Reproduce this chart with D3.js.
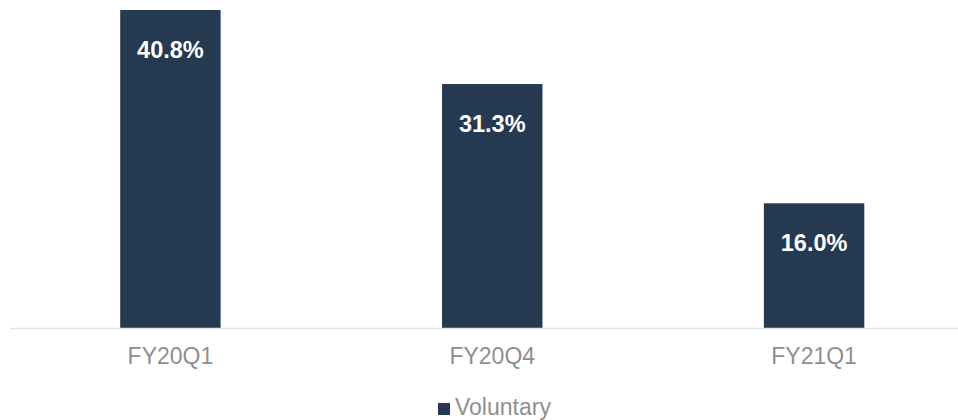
<!DOCTYPE html>
<html lang="en">
    <head>
        <meta http-equiv="content-type" content="text/html;charset=utf-8"/>
        <title>Voluntary</title>
        <script src="https://cdn.jsdelivr.net/npm/d3@7"></script>
        <style>
            body { margin: 0; background: #ffffff; }
            svg { display: block; font-family: "Liberation Sans", Arial, sans-serif; }
        </style>
    </head>
    <body>
        <div id="chart"></div>
        <script>
            // chart data
            var categories = ["FY20Q1", "FY20Q4", "FY21Q1"];
            var voluntary = [40.8, 31.3, 16.0];
            var seriesName = "Voluntary";

            var width = 958;
            var height = 420;
            var barColor = "#253a50";

            var svg = d3.select("#chart").append("svg")
                .attr("width", width)
                .attr("height", height);

            var x = d3.scaleBand()
                .domain(categories)
                .range([9.5, 975])
                .paddingInner(0.688)
                .paddingOuter(0.344);

            var y = d3.scaleLinear()
                .domain([0, d3.max(voluntary)])
                .range([328, 10]);

            var data = categories.map((c, i) => ({ cat: c, value: voluntary[i] }));

            // bars
            svg.selectAll(".bar")
                .data(data)
                .join("rect")
                .attr("class", "bar")
                .attr("x", d => x(d.cat))
                .attr("y", d => y(d.value))
                .attr("width", x.bandwidth())
                .attr("height", d => y(0) - y(d.value))
                .attr("fill", barColor);

            // baseline
            svg.append("line")
                .attr("x1", 10)
                .attr("x2", width)
                .attr("y1", y(0) + 0.5)
                .attr("y2", y(0) + 0.5)
                .attr("stroke", "#e3e3e3")
                .attr("stroke-width", 1.5);

            // value labels inside bars
            svg.selectAll(".val")
                .data(data)
                .join("text")
                .attr("class", "val")
                .attr("x", d => x(d.cat) + x.bandwidth() / 2)
                .attr("y", d => y(d.value) + 47.5)
                .attr("text-anchor", "middle")
                .attr("fill", "#ffffff")
                .attr("font-weight", "bold")
                .attr("font-size", "23.5px")
                .text(d => d.value.toFixed(1) + "%");

            // category axis
            var xAxis = svg.append("g")
                .attr("transform", "translate(0," + y(0) + ")")
                .call(d3.axisBottom(x).tickSize(0).tickPadding(20));
            xAxis.select(".domain").remove();
            xAxis.selectAll("text")
                .attr("fill", "#8f8f8f")
                .attr("font-size", "23px")
                .attr("font-family", "Liberation Sans, Arial, sans-serif");

            // legend
            var legend = svg.append("g")
                .attr("transform", "translate(438,403)");
            legend.append("rect")
                .attr("width", 12)
                .attr("height", 12)
                .attr("fill", barColor);
            legend.append("text")
                .attr("x", 17)
                .attr("y", 12)
                .attr("fill", "#8f8f8f")
                .attr("font-size", "23px")
                .text(seriesName);
        </script>
    </body>
</html>
